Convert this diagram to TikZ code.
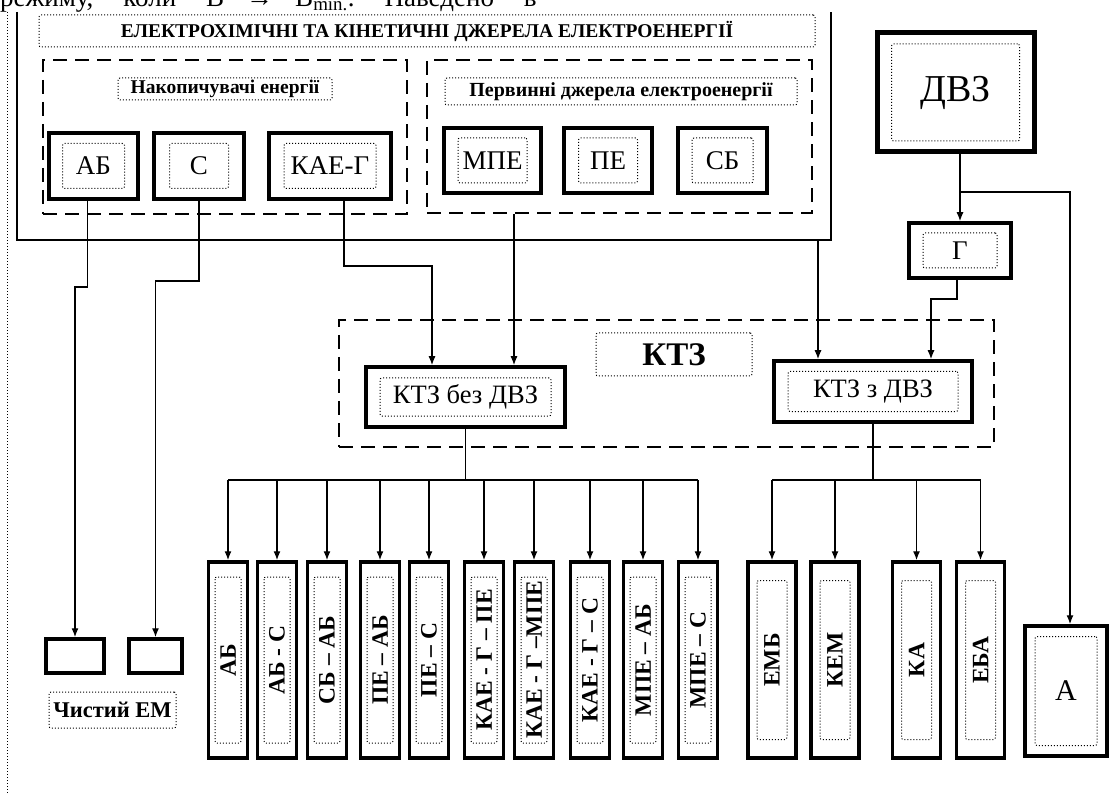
\documentclass[tikz,border=0pt]{standalone}
\usepackage{fontspec}
\setmainfont{Liberation Serif}
\usetikzlibrary{arrows.meta}
\newcommand{\fsz}[1]{\fontsize{#1}{#1}\selectfont}
\tikzset{
  outbox/.style={draw, line width=3.5pt, inner sep=0pt},
  dotbox/.style={draw, dotted, line width=1pt, rounded corners=2pt, inner sep=0pt, align=center},
  grpbox/.style={draw, line width=2.2pt, dash pattern=on 14pt off 8pt, inner sep=0pt},
  vbox/.style={outbox, minimum width=39, minimum height=196},
  vin/.style={dotbox, rotate=90, minimum width=166, minimum height=26, font=\bfseries\fsz{23.5}},
  wbox/.style={outbox, minimum width=48, minimum height=196},
  win/.style={dotbox, rotate=90, minimum width=159, minimum height=30, font=\bfseries\fsz{23.5}},
  conn/.style={line width=1.3pt, -{Latex[length=9pt,width=7pt]}},
  wire/.style={line width=1.3pt}
}
\begin{document}
\begin{tikzpicture}[x=1pt,y=-1pt]
\useasboundingbox (0,0) rectangle (1109,794);
% page line cut at top
\node[anchor=base west, inner sep=0pt, font=\fsz{27}] (topline) at (0,7) {режиму,\hspace{30pt}коли\hspace{30pt}В\hspace{22pt}→\hspace{22pt}В\textsubscript{min.}.\hspace{30pt}Наведено\hspace{30pt}в};
\draw[dotted, line width=1pt] (7,12) -- (7,794);

% sources frame
\draw[line width=1.6pt] (17,12) -- (17,240) -- (831,240) -- (831,12);
\coordinate (frm) at (818,240);
\node[dotbox, minimum width=776, minimum height=32, font=\bfseries\fsz{19.5}] (title) at (427,31) {ЕЛЕКТРОХІМІЧНІ ТА КІНЕТИЧНІ ДЖЕРЕЛА ЕЛЕКТРОЕНЕРГІЇ};

\node[grpbox, minimum width=364, minimum height=154] (nak) at (225,137) {};
\node[dotbox, minimum width=214, minimum height=22, font=\bfseries\fsz{19.5}] (naktxt) at (225,89) {Накопичувачі енергії};
\node[outbox, minimum width=89, minimum height=66] (ab) at (93.5,166) {};
\node[dotbox, minimum width=62, minimum height=45, font=\fsz{27}] at (ab) {АБ};
\node[outbox, minimum width=90, minimum height=66] (sc) at (199,166) {};
\node[dotbox, minimum width=59, minimum height=45, font=\fsz{27}] at (sc) {С};
\node[outbox, minimum width=122, minimum height=66] (kaeg) at (330,166) {};
\node[dotbox, minimum width=92, minimum height=45, font=\fsz{27}] at (kaeg) {КАЕ-Г};

\node[grpbox, minimum width=385, minimum height=153] (prv) at (619.5,136.5) {};
\node[dotbox, minimum width=352, minimum height=27, font=\bfseries\fsz{20}] (prvtxt) at (621,91.5) {Первинні джерела електроенергії};
\node[outbox, minimum width=97, minimum height=65] (mpe) at (492.5,160.5) {};
\node[dotbox, minimum width=69, minimum height=45, font=\fsz{27}] at (mpe) {МПЕ};
\node[outbox, minimum width=88, minimum height=65] (pe) at (608,160.5) {};
\node[dotbox, minimum width=59, minimum height=45, font=\fsz{27}] at (pe) {ПЕ};
\node[outbox, minimum width=89, minimum height=65] (sb) at (722.5,160.5) {};
\node[dotbox, minimum width=61, minimum height=45, font=\fsz{27}] at (sb) {СБ};

% engine and generator
\node[outbox, line width=5pt, minimum width=157, minimum height=119] (dvz) at (955.5,92.5) {};
\node[dotbox, minimum width=128, minimum height=97, font=\fsz{38}] at (dvz) {ДВЗ};
\node[outbox, minimum width=102, minimum height=55] (gen) at (960,250.5) {};
\node[dotbox, minimum width=74, minimum height=35, font=\fsz{27}] at (gen) {Г};

% vehicles
\node[grpbox, minimum width=655, minimum height=127] (ktz) at (666.5,383.5) {};
\node[dotbox, minimum width=156, minimum height=43, font=\bfseries\fsz{33}] (ktztxt) at (674,354.5) {КТЗ};
\node[outbox, minimum width=199, minimum height=60] (ktzb) at (465.5,397) {};
\node[dotbox, minimum width=171, minimum height=38, font=\fsz{26.5}] at (ktzb) {КТЗ без ДВЗ};
\node[outbox, minimum width=198, minimum height=61] (ktzd) at (873,391.5) {};
\node[dotbox, minimum width=170, minimum height=40, font=\fsz{26.5}] at (ktzd) {КТЗ з ДВЗ};

% pure electric
\node[outbox, minimum width=58, minimum height=34] (em1) at (75,656) {};
\node[outbox, minimum width=53, minimum height=34] (em2) at (155.5,656) {};
\node[dotbox, minimum width=127, minimum height=36, font=\bfseries\fsz{22.5}] (pure) at (112.5,710) {Чистий ЕМ};

\node[vbox] (v1) at (228,660) {};
\node[vin] at (v1) {АБ};
\node[vbox] (v2) at (277,660) {};
\node[vin] at (v2) {АБ - С};
\node[vbox] (v3) at (327,660) {};
\node[vin] at (v3) {СБ – АБ};
\node[vbox] (v4) at (380,660) {};
\node[vin] at (v4) {ПЕ – АБ};
\node[vbox] (v5) at (429,660) {};
\node[vin] at (v5) {ПЕ – С};
\node[vbox] (v6) at (484,660) {};
\node[vin] at (v6) {КАЕ - Г – ПЕ};
\node[vbox] (v7) at (534,660) {};
\node[vin] at (v7) {КАЕ - Г –МПЕ};
\node[vbox] (v8) at (590,660) {};
\node[vin] at (v8) {КАЕ - Г – С};
\node[vbox] (v9) at (643,660) {};
\node[vin] at (v9) {МПЕ – АБ};
\node[vbox] (v10) at (698,660) {};
\node[vin] at (v10) {МПЕ – С};

\node[wbox] (emb) at (772,660) {};
\node[win] at (emb) {ЕМБ};
\node[wbox] (kem) at (835,660) {};
\node[win] at (kem) {КЕМ};
\node[wbox] (ka) at (916.5,660) {};
\node[win] at (ka) {КА};
\node[wbox] (eba) at (980.5,660) {};
\node[win] at (eba) {ЕБА};

\node[outbox, minimum width=82, minimum height=130] (amb) at (1066,691) {};
\node[dotbox, minimum width=62, minimum height=109, font=\fsz{30}] at (amb) {А};

% connections
\draw[conn] ([xshift=-6]ab.south) |- (75,287) -- (em1.north);
\draw[conn] (sc.south) |- (155.5,281) -- (em2.north);
\draw[conn] ([xshift=14]kaeg.south) |- (432,266) -- ([xshift=-33.5]ktzb.north);
\draw[conn] ([xshift=-105.5]prv.south) -- ([xshift=48.5]ktzb.north);
\draw[conn] (frm) -- ([xshift=-55]ktzd.north);
\draw[conn] (dvz.south -| gen.north) -- (gen.north);
\coordinate (brn) at (960,192);
\draw[conn] (brn) -| ([xshift=4]amb.north);
\draw[conn] ([xshift=-3]gen.south) |- (931,299) -- ([xshift=58]ktzd.north);

\coordinate (bus) at (0,480);
\draw[wire] (ktzb.south) -- (ktzb.south |- bus);
\draw[wire] (v1.north |- bus) -- (v10.north |- bus);
\draw[conn] (v1.north |- bus) -- (v1.north);
\draw[conn] (v2.north |- bus) -- (v2.north);
\draw[conn] (v3.north |- bus) -- (v3.north);
\draw[conn] (v4.north |- bus) -- (v4.north);
\draw[conn] (v5.north |- bus) -- (v5.north);
\draw[conn] (v6.north |- bus) -- (v6.north);
\draw[conn] (v7.north |- bus) -- (v7.north);
\draw[conn] (v8.north |- bus) -- (v8.north);
\draw[conn] (v9.north |- bus) -- (v9.north);
\draw[conn] (v10.north |- bus) -- (v10.north);

\draw[wire] (ktzd.south) -- (ktzd.south |- bus);
\draw[wire] (emb.north |- bus) -- (eba.north |- bus);
\draw[conn] (emb.north |- bus) -- (emb.north);
\draw[conn] (kem.north |- bus) -- (kem.north);
\draw[conn] (ka.north |- bus) -- (ka.north);
\draw[conn] (eba.north |- bus) -- (eba.north);
\end{tikzpicture}
\end{document}
